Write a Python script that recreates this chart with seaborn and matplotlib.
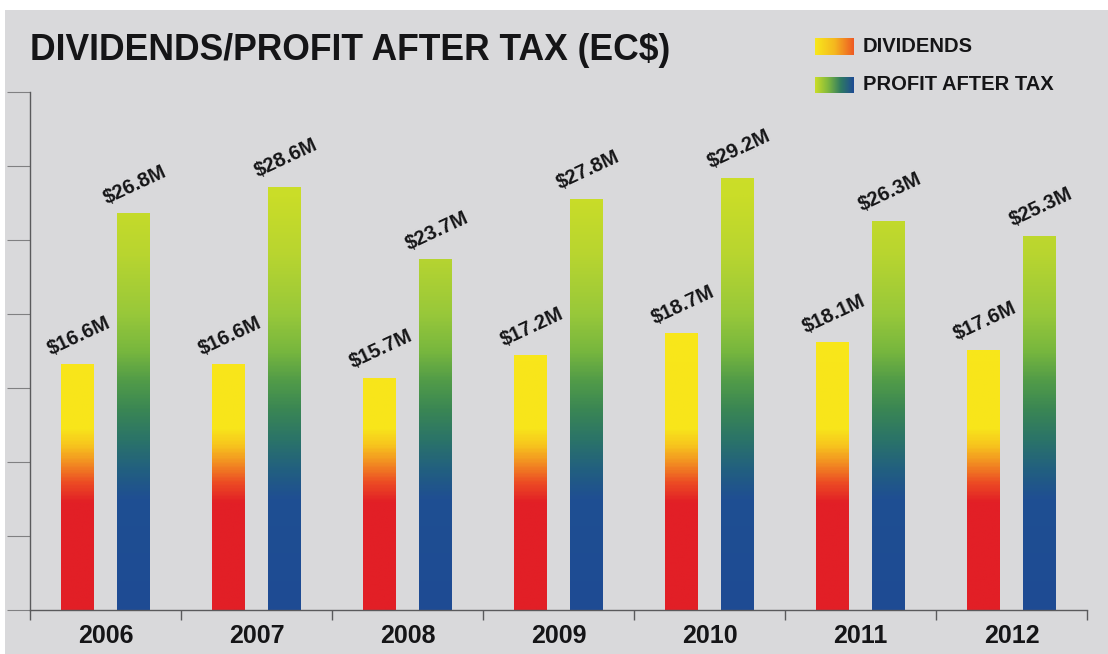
import numpy as np
import pandas as pd
import matplotlib
matplotlib.use("Agg")
import matplotlib.pyplot as plt
from matplotlib.colors import LinearSegmentedColormap
from matplotlib.patches import Rectangle
from matplotlib.ticker import FixedLocator, NullFormatter
import seaborn as sns

# ---- data (EC$ millions) ----
years = ["2006", "2007", "2008", "2009", "2010", "2011", "2012"]
dividends = [16.6, 16.6, 15.7, 17.2, 18.7, 18.1, 17.6]
profit_after_tax = [26.8, 28.6, 23.7, 27.8, 29.2, 26.3, 25.3]
series_names = ["DIVIDENDS", "PROFIT AFTER TAX"]
y_max = 35
y_ticks = [0, 5, 10, 15, 20, 25, 30, 35]

df = pd.DataFrame({
    "year": years * 2,
    "value": dividends + profit_after_tax,
    "series": [series_names[0]] * len(years) + [series_names[1]] * len(years),
})

sns.set_style("white")
plt.rcParams["font.family"] = ["Liberation Sans", "DejaVu Sans"]
plt.rcParams["font.weight"] = "bold"

TEXT = "#151517"
PANEL = "#d9d9db"

# vertical colour ramps, keyed to the value axis
def ramp(name, nodes):
    return LinearSegmentedColormap.from_list(
        name, [(v / y_max, c) for v, c in nodes])

div_cmap = ramp("div", [
    (0, "#e21f26"), (7.2, "#e21f26"), (8.5, "#ec4a24"), (9.8, "#f28a22"),
    (11.0, "#f7c21e"), (12.2, "#f8e51b"), (35, "#f8ea1a")])
pat_cmap = ramp("pat", [
    (0, "#1e4b94"), (7.5, "#1f4f92"), (9.5, "#22607f"), (11.5, "#2b7468"),
    (13.5, "#3a8654"), (15.5, "#529c48"), (17.5, "#78b73e"), (20, "#98c83a"),
    (24, "#b8d530"), (28, "#cadd28"), (35, "#d2e02a")])

fig = plt.figure(figsize=(11.08, 6.54), dpi=100, facecolor="white")
fig.patches.append(Rectangle((5 / 1108, 0), 1, 1 - 10 / 654,
                             transform=fig.transFigure, facecolor=PANEL,
                             edgecolor="none", zorder=-10))

ax = fig.add_axes([30 / 1108, 1 - 610 / 654, (1087 - 30) / 1108, (610 - 92) / 654])
ax.set_facecolor("none")

sns.barplot(data=df, x="year", y="value", hue="series", order=years,
            hue_order=series_names, width=0.74, gap=0.42, legend=False,
            errorbar=None, ax=ax)

grad = np.linspace(0, y_max, 400).reshape(-1, 1)
for container, cmap in zip(ax.containers, [div_cmap, pat_cmap]):
    for bar in container:
        bar.set_facecolor("none")
        bar.set_linewidth(0)
        x0 = bar.get_x()
        x1 = x0 + bar.get_width()
        img = ax.imshow(grad, extent=[x0, x1, 0, y_max], origin="lower",
                        aspect="auto", cmap=cmap, vmin=0, vmax=y_max,
                        interpolation="bilinear", zorder=2)
        img.set_clip_path(bar)
        ax.annotate(f"${bar.get_height():.1f}M",
                    (x0 + bar.get_width() / 2, bar.get_height()),
                    xytext=(1, 4), textcoords="offset points",
                    ha="center", va="bottom", rotation=25,
                    fontsize=14.5, fontweight="bold", color=TEXT, zorder=3)

ax.set_xlim(-0.5, len(years) - 0.5)
ax.set_ylim(0, y_max)
ax.set_xlabel("")
ax.set_ylabel("")

# axes styling
for side in ["top", "right"]:
    ax.spines[side].set_visible(False)
for side in ["left", "bottom"]:
    ax.spines[side].set_color("#5a5a5c")
    ax.spines[side].set_linewidth(1.0)

ax.set_yticks(y_ticks)
ax.set_yticklabels([])
ax.tick_params(axis="y", direction="out", length=16.5, width=0.8,
               color="#808082", left=True)
ax.tick_params(axis="x", which="major", length=0, pad=10,
               labelsize=18, labelcolor=TEXT)
for lbl in ax.get_xticklabels():
    lbl.set_fontweight("bold")
ax.xaxis.set_minor_locator(FixedLocator(np.arange(-0.5, len(years), 1.0)))
ax.xaxis.set_minor_formatter(NullFormatter())
ax.tick_params(axis="x", which="minor", direction="out", length=7,
               width=1.0, color="#5a5a5c", bottom=True)

# title
fig.text(30 / 1108, 1 - 50 / 654, "DIVIDENDS/PROFIT AFTER TAX (EC$)",
         fontsize=25.6, fontweight="bold", color=TEXT, va="center", ha="left")

# legend with gradient swatches
swatch_h = np.linspace(0, 1, 200).reshape(1, -1)
legend_items = [
    (38, 55, ["#f8e81b", "#f5b81f", "#ee5a24"]),
    (77, 93, ["#cadd28", "#7fb83e", "#2f7a62", "#1e4b94"]),
]
for name, (top, bottom, colors) in zip(series_names, legend_items):
    sax = fig.add_axes([815 / 1108, 1 - bottom / 654, 38 / 1108, (bottom - top) / 654])
    sax.imshow(swatch_h, aspect="auto",
               cmap=LinearSegmentedColormap.from_list(name, colors),
               interpolation="bilinear")
    sax.axis("off")
    fig.text(863 / 1108, 1 - (top + bottom) / 2 / 654, name, fontsize=14.5,
             fontweight="bold", color=TEXT, va="center", ha="left")

fig.savefig("out.png", dpi=100, facecolor=fig.get_facecolor())
